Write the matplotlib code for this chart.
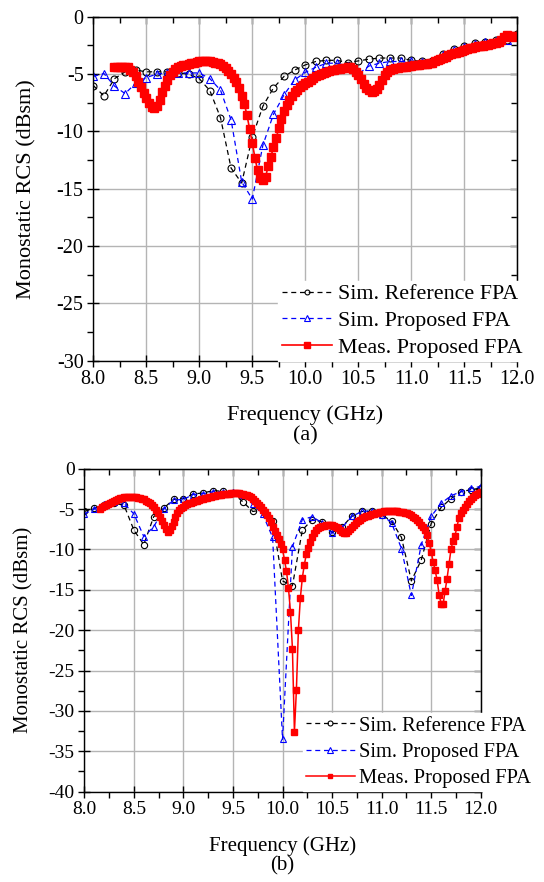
import numpy as np
import matplotlib
matplotlib.use('Agg')
import matplotlib.pyplot as plt
from matplotlib.ticker import MultipleLocator, FormatStrFormatter

plt.rcParams['font.family'] = ['Liberation Serif', 'DejaVu Serif']
plt.rcParams['axes.unicode_minus'] = False

# ---------------- panel (a) data ----------------
# simulated curves, 8.0 .. 12.0 GHz every 0.1 GHz
ref_a = [-6.0, -6.9, -5.4, -4.8, -4.65, -4.8, -4.8, -4.8, -4.9, -5.0,
         -5.4, -6.45, -8.8, -13.2, -14.5, -10.5, -7.8, -6.2, -5.2, -4.65,
         -4.2, -3.9, -3.8, -3.8, -4.0, -3.85, -3.7, -3.6, -3.6, -3.6,
         -3.8, -3.9, -3.9, -3.25, -2.85, -2.55, -2.3, -2.2, -2.05, -2.0,
         -1.5]
prop_a = [-5.2, -4.95, -6.05, -6.7, -5.8, -5.3, -5.0, -4.9, -4.9, -4.9,
          -4.9, -5.4, -6.4, -9.0, -14.4, -15.9, -11.2, -8.5, -6.8, -5.5,
          -4.85, -4.4, -4.05, -4.05, -4.3, -5.0, -4.3, -4.05, -3.9, -3.9,
          -3.9, -3.95, -3.85, -3.3, -2.9, -2.6, -2.35, -2.2, -2.1, -2.0,
          -1.7]
# measured, 8.2 .. 12.0 GHz every 0.025 GHz
meas_a = [-4.35, -4.35, -4.35, -4.35, -4.35, -4.4, -4.6, -4.85,
          -5.2, -5.7, -6.15, -6.65, -7.1, -7.55, -7.85, -8.0,
          -7.8, -7.3, -6.6, -6.0, -5.5, -5.1, -4.8, -4.55,
          -4.4, -4.3, -4.25, -4.25, -4.15, -4.05, -4.0, -3.95,
          -3.88, -3.85, -3.85, -3.87, -3.9, -3.95, -4.0, -4.05,
          -4.15, -4.3, -4.45, -4.7, -4.95, -5.3, -5.7, -6.25,
          -6.9, -7.6, -8.6, -9.8, -11.0, -12.3, -13.4, -14.1,
          -14.25, -14.0, -13.0, -12.2, -11.4, -10.6, -9.7, -8.9,
          -8.2, -7.7, -7.3, -6.95, -6.6, -6.35, -6.1, -5.95,
          -5.8, -5.65, -5.5, -5.35, -5.2, -5.1, -5.0, -4.9,
          -4.8, -4.72, -4.65, -4.6, -4.58, -4.55, -4.5, -4.45,
          -4.38, -4.4, -4.55, -4.8, -5.1, -5.45, -5.85, -6.2,
          -6.4, -6.55, -6.5, -6.3, -5.95, -5.55, -5.1, -4.8,
          -4.65, -4.55, -4.5, -4.45, -4.4, -4.38, -4.35, -4.3,
          -4.28, -4.25, -4.22, -4.2, -4.15, -4.12, -4.1, -4.05,
          -4.0, -3.9, -3.8, -3.7, -3.58, -3.47, -3.37, -3.28,
          -3.2, -3.12, -3.05, -2.97, -2.9, -2.82, -2.75, -2.7,
          -2.65, -2.58, -2.55, -2.52, -2.48, -2.42, -2.38, -2.32,
          -2.28, -2.22, -2.05, -1.8, -1.6, -1.65, -1.75, -1.7,
          -1.65]

# ---------------- panel (b) data ----------------
ref_b = [-5.3, -4.9, -4.5, -4.3, -4.5, -7.6, -9.4, -5.95, -4.9, -3.8,
         -3.7, -3.13, -3.0, -2.72, -2.8, -3.05, -4.1, -5.3, -5.1, -6.5,
         -13.9, -14.5, -7.6, -6.3, -6.6, -7.9, -7.2, -5.9, -5.3, -5.3,
         -5.7, -6.5, -8.5, -13.9, -11.3, -6.8, -4.8, -3.7, -2.85, -2.6,
         -2.4]
prop_b = [-5.6, -5.0, -4.4, -4.1, -4.3, -5.6, -8.4, -7.2, -5.0, -3.9,
          -3.8, -3.2, -3.1, -2.85, -2.85, -2.85, -3.2, -4.4, -5.65, -8.5,
          -33.5, -9.65, -6.3, -5.95, -6.7, -8.0, -7.3, -5.9, -5.3, -5.2,
          -5.7, -6.7, -9.9, -15.7, -9.4, -5.9, -4.3, -3.35, -2.85, -2.45,
          -2.2]
# measured, 8.16 .. 12.0 GHz every 0.02 GHz
meas_b = [-5.0, -4.8, -4.6, -4.45, -4.35, -4.25, -4.1, -3.95, -3.85, -3.75,
          -3.65, -3.58, -3.55, -3.5, -3.48, -3.47, -3.48, -3.5, -3.53, -3.58,
          -3.62, -3.7, -3.8, -3.95, -4.1, -4.3, -4.55, -4.8, -5.1, -5.5,
          -5.95, -6.45, -6.95, -7.45, -7.8, -7.65, -7.1, -6.55, -6.0, -5.5,
          -5.15, -4.9, -4.7, -4.55, -4.42, -4.3, -4.2, -4.1, -4.02, -3.95,
          -3.87, -3.8, -3.72, -3.65, -3.58, -3.5, -3.45, -3.4, -3.35, -3.3,
          -3.25, -3.2, -3.15, -3.12, -3.1, -3.08, -3.06, -3.05, -3.05, -3.05,
          -3.07, -3.1, -3.15, -3.2, -3.28, -3.4, -3.55, -3.75, -3.95, -4.2,
          -4.5, -4.8, -5.1, -5.4, -5.7, -6.1, -6.6, -7.2, -7.7, -8.2,
          -8.7, -9.3, -10.0, -11.3, -12.7, -14.8, -17.7, -22.3, -32.6, -27.4,
          -20.0, -16.0, -13.5, -11.9, -10.6, -9.8, -9.1, -8.4, -7.95, -7.6,
          -7.4, -7.25, -7.15, -7.08, -7.02, -6.98, -6.97, -7.0, -7.1, -7.25,
          -7.4, -7.6, -7.85, -8.0, -7.95, -7.7, -7.45, -7.2, -6.95, -6.75,
          -6.5, -6.3, -6.15, -6.0, -5.9, -5.8, -5.7, -5.6, -5.55, -5.5,
          -5.45, -5.4, -5.35, -5.3, -5.3, -5.28, -5.28, -5.28, -5.28, -5.3,
          -5.3, -5.32, -5.35, -5.4, -5.45, -5.5, -5.62, -5.78, -5.95, -6.15,
          -6.4, -6.65, -6.95, -7.25, -7.55, -8.2, -9.2, -10.3, -11.5, -12.6,
          -13.8, -15.6, -16.7, -16.8, -15.2, -13.6, -11.8, -10.0, -8.9, -8.3,
          -7.2, -6.1, -5.5, -5.1, -4.7, -4.35, -4.0, -3.75, -3.55, -3.3,
          -3.1, -2.95, -2.85]

labels = ['Sim. Reference FPA', 'Sim. Proposed FPA', 'Meas. Proposed FPA']

f_ref_a = np.linspace(8.0, 12.0, len(ref_a))
f_prop_a = np.linspace(8.0, 12.0, len(prop_a))
f_meas_a = np.linspace(8.2, 12.0, len(meas_a))
f_ref_b = np.linspace(8.0, 12.0, len(ref_b))
f_prop_b = np.linspace(8.0, 12.0, len(prop_b))
f_meas_b = np.linspace(8.16, 12.0, len(meas_b))

fig = plt.figure(figsize=(5.44, 8.82), dpi=100)
ax1 = fig.add_axes([0.1715, 0.5910, 0.7794, 0.3900])
ax2 = fig.add_axes([0.1550, 0.1024, 0.7287, 0.3662])


def style(ax, ymin, ylab_x, tag, tag_y, xlab_y, tick_fs, lab_fs):
    ax.set_xlim(8, 12)
    ax.set_ylim(ymin, 0)
    ax.xaxis.set_major_locator(MultipleLocator(0.5))
    ax.xaxis.set_minor_locator(MultipleLocator(0.25))
    ax.yaxis.set_major_locator(MultipleLocator(5))
    ax.yaxis.set_minor_locator(MultipleLocator(2.5))
    ax.xaxis.set_major_formatter(FormatStrFormatter('%.1f'))
    ax.grid(True, which='major', color='#b4b4b4', lw=1.0)
    ax.set_axisbelow(True)
    ax.tick_params(which='major', direction='inout', length=8, width=1,
                   labelsize=tick_fs, pad=3)
    ax.tick_params(which='minor', direction='out', length=4, width=1)
    for s in ax.spines.values():
        s.set_linewidth(1.0)
    # inward ticks on top and right
    top = ax.secondary_xaxis('top')
    top.xaxis.set_major_locator(MultipleLocator(0.5))
    top.xaxis.set_minor_locator(MultipleLocator(0.25))
    top.tick_params(which='major', direction='in', length=5, width=1, labeltop=False)
    top.tick_params(which='minor', direction='in', length=4, width=1)
    right = ax.secondary_yaxis('right')
    right.yaxis.set_major_locator(MultipleLocator(5))
    right.yaxis.set_minor_locator(MultipleLocator(2.5))
    right.tick_params(which='major', direction='in', length=5, width=1, labelright=False)
    right.tick_params(which='minor', direction='in', length=4, width=1)
    ax.set_xlabel('Frequency (GHz)', fontsize=lab_fs)
    ax.xaxis.set_label_coords(0.5, xlab_y)
    ax.set_ylabel('Monostatic RCS (dBsm)', fontsize=lab_fs)
    ax.yaxis.set_label_coords(ylab_x, 0.5)
    ax.text(0.5, tag_y, tag, transform=ax.transAxes, ha='center', va='top',
            fontsize=lab_fs)


# panel (a)
ax1.plot(f_ref_a, ref_a, color='black', ls=(0, (4, 3)), lw=0.9, marker='o',
         ms=5, mfc='none', mec='black', mew=0.8, label=labels[0])
ax1.plot(f_prop_a, prop_a, color='blue', ls=(0, (4, 3)), lw=0.9, marker='^',
         ms=5.5, mfc='none', mec='blue', mew=0.8, label=labels[1])
ax1.plot(f_meas_a, meas_a, color='red', ls='-', lw=1.2, marker='s',
         ms=6, mfc='red', mec='red', label=labels[2])
style(ax1, -30, -0.135, '(a)', -0.19, -0.13, 14.5, 16)
ax1.legend(loc='upper left', bbox_to_anchor=(0.5118, 0.6819),
           bbox_transform=fig.transFigure, frameon=True, fancybox=False,
           edgecolor='white', facecolor='white', framealpha=1, fontsize=15.8,
           handlelength=2.28, handletextpad=0.27, labelspacing=0.3,
           borderpad=0.15, borderaxespad=0, markerscale=0.7, numpoints=1)

# panel (b)
ax2.plot(f_ref_b, ref_b, color='black', ls=(0, (4, 3)), lw=0.9, marker='o',
         ms=4.5, mfc='none', mec='black', mew=0.8, label=labels[0])
ax2.plot(f_prop_b, prop_b, color='blue', ls=(0, (4, 3)), lw=0.9, marker='^',
         ms=5, mfc='none', mec='blue', mew=0.8, label=labels[1])
ax2.plot(f_meas_b, meas_b, color='red', ls='-', lw=1.1, marker='s',
         ms=4, mfc='red', mec='red', label=labels[2])
style(ax2, -40, -0.129, '(b)', -0.2, -0.138, 14, 15)
ax2.legend(loc='upper left', bbox_to_anchor=(0.5568, 0.1914),
           bbox_transform=fig.transFigure, frameon=True, fancybox=False,
           edgecolor='white', facecolor='white', framealpha=1, fontsize=14.8,
           handlelength=2.38, handletextpad=0.21, labelspacing=0.33,
           borderpad=0.15, borderaxespad=0, markerscale=0.8, numpoints=1)

fig.savefig('out.png', dpi=100)
